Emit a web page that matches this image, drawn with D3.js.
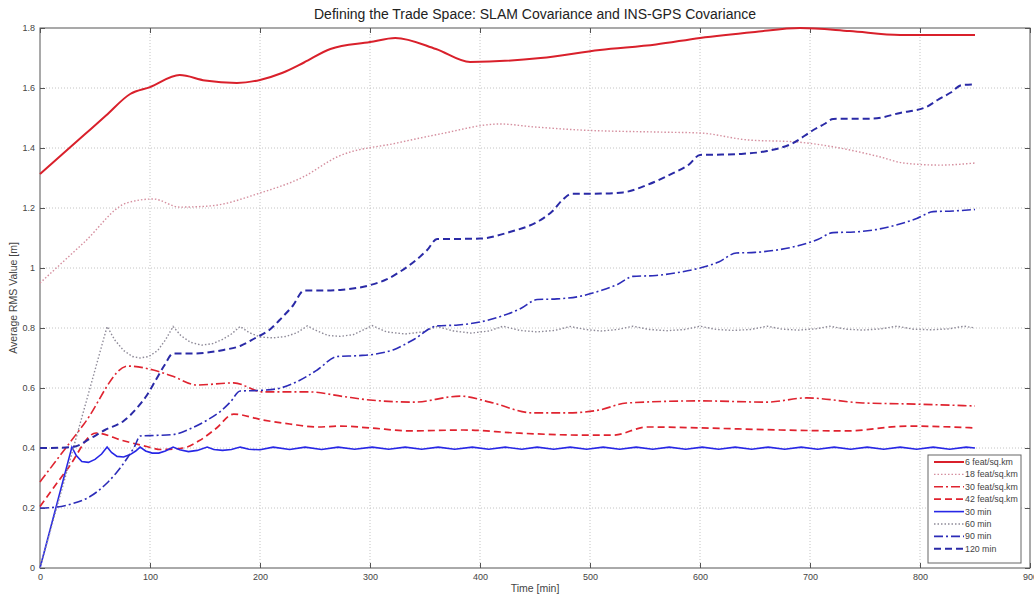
<!DOCTYPE html>
<html>
<head>
<meta charset="utf-8">
<script src="https://cdn.jsdelivr.net/npm/d3@7"></script>
<style>
  body { margin: 0; background: #fff; }
  svg { font-family: "Liberation Sans", Arial, sans-serif; }
</style>
</head>
<body>
<svg id="chart" width="1034" height="596"></svg>
<script>
// values: [time in min, average RMS in m]
var feat6 = [[0,1.313],[20,1.378],[40,1.443],[60,1.508],[82,1.58],[100,1.603],[127,1.643],[150,1.625],[179,1.617],[200,1.627],[220,1.65],[240,1.685],[264,1.73],[300,1.753],[323,1.767],[360,1.73],[391,1.687],[455,1.70],[509,1.727],[560,1.745],[600,1.767],[650,1.787],[691,1.80],[736,1.79],[782,1.777],[850,1.777]];

var feat18 = [[0,0.95],[40,1.085],[79,1.217],[103,1.23],[127,1.203],[155,1.207],[200,1.25],[239,1.303],[270,1.37],[325,1.417],[364,1.447],[418,1.48],[450,1.47],[491,1.46],[564,1.453],[600,1.45],[643,1.427],[688,1.42],[727,1.40],[764,1.37],[785,1.35],[818,1.343],[850,1.35]];

var feat30 = [[0,0.287],[40,0.48],[80,0.673],[103,0.66],[120,0.64],[143,0.61],[176,0.617],[203,0.587],[245,0.587],[275,0.572],[300,0.56],[340,0.553],[382,0.573],[409,0.553],[448,0.517],[479,0.517],[509,0.527],[533,0.55],[600,0.557],[661,0.553],[697,0.567],[748,0.55],[788,0.547],[850,0.54]];

var feat42 = [[0,0.205],[25,0.33],[51,0.45],[75,0.425],[97,0.405],[110,0.395],[130,0.4],[145,0.425],[160,0.465],[176,0.513],[203,0.493],[227,0.48],[252,0.47],[273,0.473],[300,0.467],[336,0.457],[385,0.46],[433,0.45],[494,0.443],[521,0.443],[552,0.47],[600,0.467],[673,0.46],[733,0.457],[788,0.473],[850,0.467]];

var min30 = [[0,0],[29,0.403],[33,0.375],[38,0.355],[44,0.352],[50,0.362],[56,0.38],[61,0.403],[65,0.385],[70,0.372],[76,0.37],[82,0.378],[87,0.39],[91,0.403],[96,0.39],[102,0.383],[108,0.383],[114,0.39],[121,0.403],[127,0.394],[135,0.388],[143,0.392],[152,0.403],[158,0.395],[166,0.392],[174,0.395],[182,0.403],[190,0.396],[200,0.394],[212,0.403],[227,0.395],[241,0.403],[256,0.395],[271,0.403],[286,0.396],[302,0.403],[317,0.396],[332,0.403],[347,0.396],[362,0.403],[377,0.396],[393,0.403],[408,0.396],[423,0.403],[438,0.396],[452,0.403],[467,0.396],[482,0.403],[497,0.396],[512,0.403],[527,0.396],[542,0.403],[557,0.396],[572,0.403],[587,0.396],[602,0.403],[617,0.396],[632,0.403],[647,0.396],[662,0.403],[677,0.396],[692,0.403],[707,0.396],[722,0.403],[737,0.396],[752,0.403],[767,0.396],[782,0.403],[797,0.396],[812,0.403],[827,0.396],[842,0.403],[850,0.4]];

var min60 = [[0,0],[61,0.805],[68,0.76],[76,0.725],[84,0.705],[91,0.70],[99,0.705],[107,0.725],[114,0.76],[121,0.805],[128,0.775],[137,0.752],[147,0.743],[157,0.748],[166,0.762],[174,0.78],[182,0.805],[190,0.785],[200,0.77],[212,0.767],[224,0.772],[234,0.785],[243,0.807],[252,0.79],[262,0.775],[273,0.772],[285,0.778],[302,0.808],[315,0.787],[332,0.78],[348,0.787],[361,0.805],[376,0.79],[392,0.783],[408,0.79],[421,0.806],[436,0.792],[452,0.787],[468,0.792],[482,0.805],[496,0.795],[510,0.79],[525,0.795],[539,0.806],[554,0.795],[570,0.791],[586,0.795],[600,0.806],[615,0.795],[630,0.792],[646,0.795],[661,0.806],[675,0.796],[690,0.793],[705,0.797],[718,0.806],[733,0.796],[748,0.793],[764,0.797],[779,0.806],[794,0.796],[810,0.794],[826,0.797],[840,0.806],[850,0.80]];

var min90 = [[0,0.2],[15,0.203],[30,0.215],[44,0.235],[60,0.28],[70,0.32],[80,0.37],[86,0.405],[91,0.44],[105,0.442],[121,0.445],[137,0.465],[152,0.493],[165,0.525],[173,0.553],[182,0.59],[200,0.592],[215,0.597],[233,0.62],[252,0.66],[270,0.705],[290,0.708],[305,0.713],[321,0.727],[339,0.76],[361,0.807],[380,0.81],[400,0.82],[420,0.84],[437,0.865],[452,0.895],[470,0.897],[490,0.905],[510,0.925],[525,0.945],[539,0.972],[560,0.975],[580,0.985],[600,1.0],[617,1.02],[633,1.05],[650,1.052],[670,1.06],[690,1.075],[707,1.095],[721,1.118],[740,1.12],[760,1.128],[780,1.145],[797,1.165],[812,1.188],[830,1.19],[850,1.195]];

var min120 = [[0,0.4],[20,0.401],[32,0.405],[45,0.43],[59,0.46],[76,0.49],[89,0.537],[97,0.575],[105,0.625],[113,0.675],[121,0.715],[140,0.715],[152,0.718],[167,0.727],[182,0.74],[195,0.765],[209,0.795],[220,0.835],[230,0.875],[240,0.925],[260,0.925],[273,0.927],[300,0.943],[315,0.962],[327,0.987],[342,1.027],[352,1.06],[361,1.097],[380,1.097],[400,1.098],[427,1.12],[455,1.16],[466,1.19],[475,1.227],[483,1.247],[510,1.248],[530,1.252],[552,1.277],[576,1.317],[590,1.345],[600,1.377],[620,1.378],[636,1.38],[661,1.39],[685,1.417],[703,1.46],[713,1.48],[721,1.497],[757,1.498],[782,1.517],[806,1.537],[816,1.56],[828,1.585],[838,1.61],[850,1.612]];

var seriesNames = ['6 feat/sq.km', '18 feat/sq.km', '30 feat/sq.km', '42 feat/sq.km', '30 min', '60 min', '90 min', '120 min'];
var seriesData = [feat6, feat18, feat30, feat42, min30, min60, min90, min120];
var xTicks = [0, 100, 200, 300, 400, 500, 600, 700, 800, 900];
var yTicks = [0, 0.2, 0.4, 0.6, 0.8, 1, 1.2, 1.4, 1.6, 1.8];

// drawing styles, same order as the series
var styles = [
    {color: '#d9202b', width: 2,   dash: null,        curve: d3.curveMonotoneX},
    {color: '#d58f9f', width: 1.4, dash: '1.5,2',     curve: d3.curveMonotoneX},
    {color: '#df2430', width: 1.6, dash: '9,3,2,3',   curve: d3.curveMonotoneX},
    {color: '#e0222e', width: 1.7, dash: '7,4',       curve: d3.curveMonotoneX},
    {color: '#2727e6', width: 1.6, dash: null,        curve: d3.curveLinear},
    {color: '#8e8a98', width: 1.4, dash: '1.5,2',     curve: d3.curveLinear},
    {color: '#2c2cb8', width: 1.6, dash: '9,3,2,3',   curve: d3.curveMonotoneX},
    {color: '#2a2aa6', width: 2,   dash: '7,4',       curve: d3.curveMonotoneX}
];

var svg = d3.select('#chart');
var plotLeft = 40, plotRight = 1030, plotTop = 28, plotBottom = 568;

var x = d3.scaleLinear().domain([0, 900]).range([plotLeft, plotRight]);
var y = d3.scaleLinear().domain([0, 1.8]).range([plotBottom, plotTop]);

// grid
svg.append('g').selectAll('line').data(xTicks.slice(1, -1)).enter().append('line')
    .attr('x1', function(d) { return x(d); }).attr('x2', function(d) { return x(d); })
    .attr('y1', plotTop).attr('y2', plotBottom)
    .attr('stroke', '#c4c4c4').attr('stroke-dasharray', '1,2');
svg.append('g').selectAll('line').data(yTicks.slice(1, -1)).enter().append('line')
    .attr('x1', plotLeft).attr('x2', plotRight)
    .attr('y1', function(d) { return y(d); }).attr('y2', function(d) { return y(d); })
    .attr('stroke', '#c4c4c4').attr('stroke-dasharray', '1,2');

// axes with inward ticks on all four sides
function styleAxis(g)
{
    g.select('.domain').remove();
    g.selectAll('.tick line').attr('stroke', '#555');
    g.selectAll('.tick text').attr('fill', '#444').style('font-size', '9px');
}
svg.append('g').attr('transform', 'translate(0,' + plotBottom + ')')
    .call(d3.axisBottom(x).tickValues(xTicks).tickSizeInner(-5).tickSizeOuter(0).tickPadding(6).tickFormat(d3.format('d')))
    .call(styleAxis);
svg.append('g').attr('transform', 'translate(0,' + plotTop + ')')
    .call(d3.axisTop(x).tickValues(xTicks).tickSizeInner(-5).tickSizeOuter(0).tickFormat(''))
    .call(styleAxis);
svg.append('g').attr('transform', 'translate(' + plotLeft + ',0)')
    .call(d3.axisLeft(y).tickValues(yTicks).tickSizeInner(-5).tickSizeOuter(0).tickPadding(5).tickFormat(d3.format('~g')))
    .call(styleAxis);
svg.append('g').attr('transform', 'translate(' + plotRight + ',0)')
    .call(d3.axisRight(y).tickValues(yTicks).tickSizeInner(-5).tickSizeOuter(0).tickFormat(''))
    .call(styleAxis);

svg.append('rect')
    .attr('x', plotLeft).attr('y', plotTop).attr('width', plotRight - plotLeft).attr('height', plotBottom - plotTop)
    .attr('fill', 'none').attr('stroke', '#555');

// lines
var plot = svg.append('g');
for (var i = 0; i < seriesData.length; i++)
{
    var line = d3.line()
        .x(function(d) { return x(d[0]); })
        .y(function(d) { return y(d[1]); })
        .curve(styles[i].curve);
    plot.append('path')
        .datum(seriesData[i])
        .attr('d', line)
        .attr('fill', 'none')
        .attr('stroke', styles[i].color)
        .attr('stroke-width', styles[i].width)
        .attr('stroke-dasharray', styles[i].dash);
}

// titles
svg.append('text').attr('x', (plotLeft + plotRight) / 2).attr('y', 19)
    .attr('text-anchor', 'middle').style('font-size', '14px').attr('fill', '#222')
    .text('Defining the Trade Space: SLAM Covariance and INS-GPS Covariance');
svg.append('text').attr('x', (plotLeft + plotRight) / 2).attr('y', 592)
    .attr('text-anchor', 'middle').style('font-size', '10.5px').attr('fill', '#444')
    .text('Time [min]');
svg.append('text')
    .attr('transform', 'translate(17,' + ((plotTop + plotBottom) / 2) + ') rotate(-90)')
    .attr('text-anchor', 'middle').style('font-size', '10.5px').attr('fill', '#444')
    .text('Average RMS Value [m]');

// legend
var legend = svg.append('g');
legend.append('rect').attr('x', 928).attr('y', 455).attr('width', 93).attr('height', 108)
    .attr('fill', '#fff').attr('stroke', '#666');
for (var k = 0; k < seriesNames.length; k++)
{
    var ly = 462 + k * 12.4;
    legend.append('line').attr('x1', 934).attr('x2', 964).attr('y1', ly).attr('y2', ly)
        .attr('stroke', styles[k].color)
        .attr('stroke-width', styles[k].width)
        .attr('stroke-dasharray', styles[k].dash);
    legend.append('text').attr('x', 965).attr('y', ly + 3)
        .style('font-size', '8.8px').attr('fill', '#444')
        .text(seriesNames[k]);
}
</script>
</body>
</html>
